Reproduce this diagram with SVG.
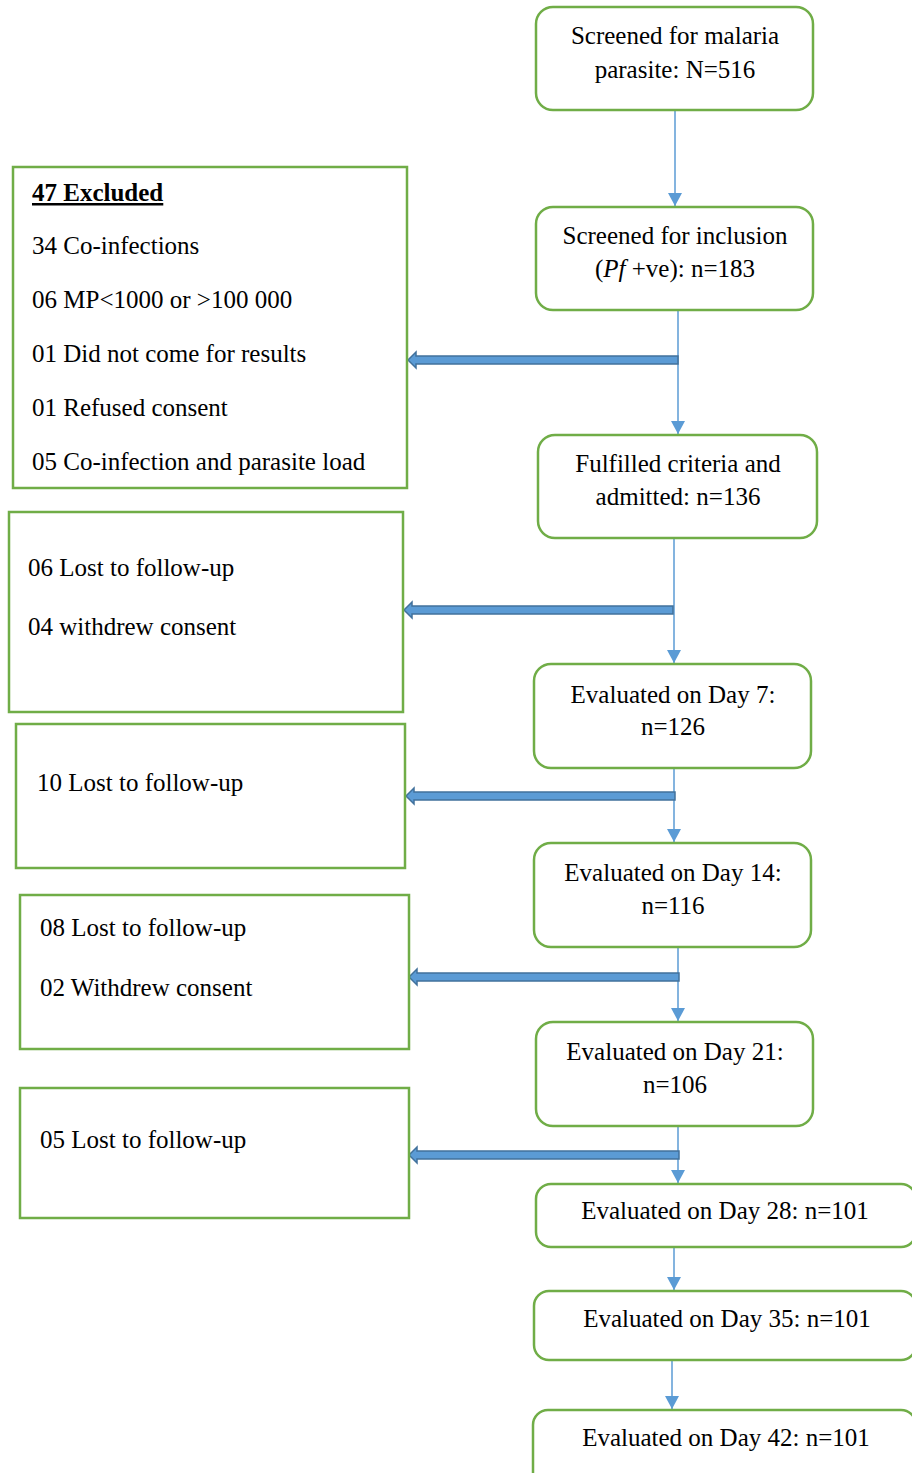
<svg xmlns="http://www.w3.org/2000/svg" width="912" height="1473" viewBox="0 0 912 1473">
<style>
.rb{fill:#fff;stroke:#70AD47;stroke-width:2.5}
.sb{fill:#fff;stroke:#70AD47;stroke-width:2.5}
.t{font-family:"Liberation Serif","Times New Roman",serif;font-size:25px;fill:#000}
.c{text-anchor:middle}
.con{stroke:#5B9BD5;stroke-width:1.5;fill:none}
.blk{fill:#5B9BD5;stroke:#41719C;stroke-width:1.5}
</style>
<defs>
<marker id="ah2" markerUnits="userSpaceOnUse" markerWidth="15" markerHeight="14" refX="13" refY="7" orient="auto" viewBox="0 0 13 14">
<path d="M0,0 L13,7 L0,14 Z" fill="#5B9BD5"/>
</marker>
</defs>

<g id="connectors">
<line class="con" x1="675" y1="111" x2="675" y2="206" marker-end="url(#ah2)"/>
<line class="con" x1="678" y1="311" x2="678" y2="434" marker-end="url(#ah2)"/>
<line class="con" x1="674" y1="539" x2="674" y2="663" marker-end="url(#ah2)"/>
<line class="con" x1="674" y1="769" x2="674" y2="842" marker-end="url(#ah2)"/>
<line class="con" x1="678" y1="948" x2="678" y2="1021" marker-end="url(#ah2)"/>
<line class="con" x1="678" y1="1127" x2="678" y2="1183" marker-end="url(#ah2)"/>
<line class="con" x1="674" y1="1248" x2="674" y2="1290" marker-end="url(#ah2)"/>
<line class="con" x1="672" y1="1361" x2="672" y2="1409" marker-end="url(#ah2)"/>
<path class="blk" d="M678,356 L416,356 L416,352 L408,360 L416,368 L416,364 L678,364 Z"/>
<path class="blk" d="M673,606 L412,606 L412,602 L404,610 L412,618 L412,614 L673,614 Z"/>
<path class="blk" d="M675,792 L414,792 L414,788 L406,796 L414,804 L414,800 L675,800 Z"/>
<path class="blk" d="M679,973 L417,973 L417,969 L409,977 L417,985 L417,981 L679,981 Z"/>
<path class="blk" d="M679,1151 L417,1151 L417,1147 L409,1155 L417,1163 L417,1159 L679,1159 Z"/>
</g>

<g id="n-screened-malaria">
<rect class="rb" x="536" y="7" width="277" height="103" rx="17"/>
<text class="t c" x="675" y="44">Screened for malaria</text>
<text class="t c" x="675" y="78">parasite: N=516</text>
</g>
<g id="n-screened-inclusion">
<rect class="rb" x="536" y="207" width="277" height="103" rx="17"/>
<text class="t c" x="675" y="244">Screened for inclusion</text>
<text class="t c" x="675" y="277">(<tspan font-style="italic">Pf </tspan>+ve): n=183</text>
</g>
<g id="n-fulfilled">
<rect class="rb" x="538" y="435" width="279" height="103" rx="17"/>
<text class="t c" x="678" y="472">Fulfilled criteria and</text>
<text class="t c" x="678" y="505">admitted: n=136</text>
</g>
<g id="n-day7">
<rect class="rb" x="534" y="664" width="277" height="104" rx="17"/>
<text class="t c" x="673" y="703">Evaluated on Day 7:</text>
<text class="t c" x="673" y="735">n=126</text>
</g>
<g id="n-day14">
<rect class="rb" x="534" y="843" width="277" height="104" rx="17"/>
<text class="t c" x="673" y="881">Evaluated on Day 14:</text>
<text class="t c" x="673" y="914">n=116</text>
</g>
<g id="n-day21">
<rect class="rb" x="536" y="1022" width="277" height="104" rx="17"/>
<text class="t c" x="675" y="1060">Evaluated on Day 21:</text>
<text class="t c" x="675" y="1093">n=106</text>
</g>
<g id="n-day28">
<rect class="rb" x="536" y="1184" width="380" height="63" rx="15"/>
<text class="t c" x="725" y="1219">Evaluated on Day 28: n=101</text>
</g>
<g id="n-day35">
<rect class="rb" x="534" y="1291" width="382" height="69" rx="15"/>
<text class="t c" x="727" y="1327">Evaluated on Day 35: n=101</text>
</g>
<g id="n-day42">
<rect class="rb" x="533" y="1410" width="383" height="80" rx="15"/>
<text class="t c" x="726" y="1446">Evaluated on Day 42: n=101</text>
</g>

<g id="n-excluded">
<rect class="sb" x="13" y="167" width="394" height="321"/>
<text class="t" x="32" y="201" font-weight="bold" text-decoration="underline">47 Excluded</text>
<text class="t" x="32" y="254">34 Co-infections</text>
<text class="t" x="32" y="308">06 MP&lt;1000 or &gt;100 000</text>
<text class="t" x="32" y="362">01 Did not come for results</text>
<text class="t" x="32" y="416">01 Refused consent</text>
<text class="t" x="32" y="470">05 Co-infection and parasite load</text>
</g>
<g id="n-lost-day7">
<rect class="sb" x="9" y="512" width="394" height="200"/>
<text class="t" x="28" y="576">06 Lost to follow-up</text>
<text class="t" x="28" y="635">04 withdrew consent</text>
</g>
<g id="n-lost-day14">
<rect class="sb" x="16" y="724" width="389" height="144"/>
<text class="t" x="37" y="791">10 Lost to follow-up</text>
</g>
<g id="n-lost-day21">
<rect class="sb" x="20" y="895" width="389" height="154"/>
<text class="t" x="40" y="936">08 Lost to follow-up</text>
<text class="t" x="40" y="996">02 Withdrew consent</text>
</g>
<g id="n-lost-day28">
<rect class="sb" x="20" y="1088" width="389" height="130"/>
<text class="t" x="40" y="1148">05 Lost to follow-up</text>
</g>
</svg>
